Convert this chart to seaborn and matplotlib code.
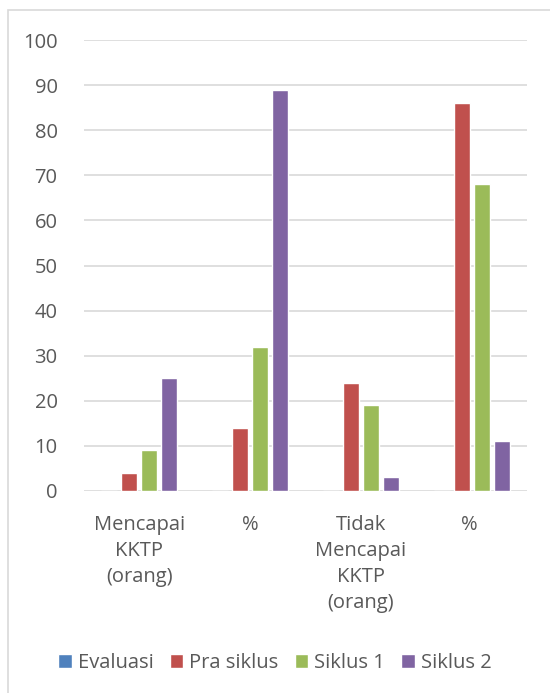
import matplotlib
matplotlib.use("Agg")
import matplotlib.pyplot as plt
import seaborn as sns
import pandas as pd
from matplotlib.patches import Rectangle

categories = ["Mencapai\nKKTP\n(orang)", "%", "Tidak\nMencapai\nKKTP\n(orang)", "% "]
series = ["Evaluasi", "Pra siklus", "Siklus 1", "Siklus 2"]
evaluasi = [0, 0, 0, 0]
pra_siklus = [4, 14, 24, 86]
siklus_1 = [9, 32, 19, 68]
siklus_2 = [25, 89, 3, 11]
yticks = list(range(0, 101, 10))

colors = ["#4F81BD", "#C0504D", "#9BBB59", "#8064A2"]
text_color = "#595959"

rows = []
for name, vals in zip(series, [evaluasi, pra_siklus, siklus_1, siklus_2]):
    for c, v in zip(categories, vals):
        rows.append({"Kategori": c, "Seri": name, "Nilai": v})
df = pd.DataFrame(rows)

sns.set_style("white")
plt.rcParams["font.family"] = ["Open Sans", "DejaVu Sans"]

W, H = 550, 693
fig = plt.figure(figsize=(W / 100, H / 100), dpi=100)
fig.patch.set_facecolor("white")

# outer chart border
fig.patches.append(Rectangle((8 / W, -0.05), 1.2, 1 - 10 / H + 0.05, transform=fig.transFigure,
                             fill=False, edgecolor="#D9D9D9", linewidth=1.2))

ax = fig.add_axes([84 / W, 1 - 491 / H, (527 - 84) / W, (491 - 40) / H])
sns.barplot(data=df, x="Kategori", y="Nilai", hue="Seri", order=categories,
            hue_order=series, palette=colors, width=0.722, gap=0.2,
            saturation=1, ax=ax, legend=True)

ax.set_ylim(0, 100)
ax.set_yticks(yticks)
ax.set_xlim(-0.5, 3.5)
ax.yaxis.grid(True, color="#D9D9D9", linewidth=1.2)
ax.set_axisbelow(True)
for s in ax.spines.values():
    s.set_visible(False)
ax.set_xlabel("")
ax.set_ylabel("")
ax.tick_params(axis="both", length=0, colors=text_color, labelsize=14.5)
ax.tick_params(axis="y", pad=19)
ax.tick_params(axis="x", pad=17)
for lab in ax.get_xticklabels():
    lab.set_linespacing(1.4)

handles, labels = ax.get_legend_handles_labels()
ax.get_legend().remove()
leg = fig.legend(handles, labels, loc="center", bbox_to_anchor=(0.5, 1 - 663 / H),
                 ncol=4, frameon=False, fontsize=14.5, handlelength=0.68,
                 handleheight=0.68, handletextpad=0.3, columnspacing=0.8)
for t in leg.get_texts():
    t.set_color(text_color)

fig.savefig("out.png", dpi=100, facecolor="white")
